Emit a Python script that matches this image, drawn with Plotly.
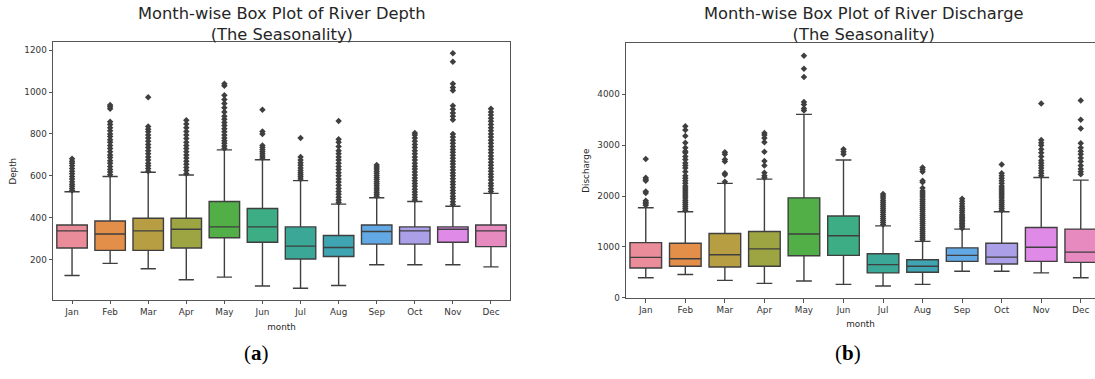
import plotly.graph_objects as go

months = ["Jan", "Feb", "Mar", "Apr", "May", "Jun", "Jul", "Aug", "Sep", "Oct", "Nov", "Dec"]
colors = ["#ea8c99", "#e38f4a", "#b89e42", "#9ca542", "#52ae46", "#3dad86",
          "#3ba897", "#3fa5b2", "#62a8e4", "#ab9fe8", "#de8ae6", "#e78ac0"]

# ---- River Depth (a) ----
depth_q1 = [255, 244, 244, 255, 304, 283, 203, 215, 274, 274, 283, 262]
depth_med = [337, 322, 337, 345, 356, 356, 264, 258, 334, 337, 345, 337]
depth_q3 = [365, 384, 397, 397, 477, 444, 356, 315, 365, 356, 356, 365]
depth_lo = [124, 182, 156, 104, 116, 74, 63, 76, 175, 175, 175, 165]
depth_hi = [524, 597, 617, 604, 724, 677, 577, 465, 495, 477, 455, 516]
depth_out = {
    "Jan": [530, 540, 550, 560, 572, 585, 597, 610, 622, 635, 648, 660, 670, 682],
    "Feb": [605, 618, 630, 645, 660, 672, 688, 700, 715, 730, 745, 760, 772, 788, 800, 815, 830, 845, 858, 920, 930, 938],
    "Mar": [622, 635, 648, 660, 675, 690, 705, 720, 735, 750, 765, 780, 795, 810, 822, 835, 975],
    "Apr": [610, 625, 640, 655, 670, 685, 700, 715, 730, 745, 760, 778, 795, 812, 830, 848, 865],
    "May": [730, 742, 755, 768, 780, 795, 810, 825, 840, 855, 870, 885, 905, 925, 945, 965, 985, 1030, 1040],
    "Jun": [685, 695, 705, 715, 725, 735, 745, 800, 812, 915],
    "Jul": [585, 595, 605, 615, 625, 637, 650, 662, 675, 690, 780],
    "Aug": [472, 485, 498, 512, 525, 540, 555, 570, 585, 600, 615, 630, 645, 660, 675, 690, 705, 720, 740, 760, 775, 862],
    "Sep": [502, 512, 522, 532, 542, 552, 562, 572, 582, 592, 602, 612, 622, 632, 642, 652],
    "Oct": [485, 497, 510, 523, 536, 550, 563, 577, 590, 604, 618, 632, 646, 660, 675, 690, 705, 720, 735, 750, 765, 780, 795, 805],
    "Nov": [463, 476, 490, 503, 517, 530, 544, 558, 572, 586, 600, 614, 628, 642, 656, 670, 684, 698, 712, 726, 740, 755, 770, 785, 800,
            868, 885, 900, 918, 935, 1008, 1022, 1040, 1145, 1185],
    "Dec": [525, 538, 552, 565, 580, 594, 608, 622, 636, 650, 665, 680, 695, 710, 725, 740, 755, 770, 785, 800, 815, 830, 845, 860,
            875, 890, 905, 920],
}

# ---- River Discharge (b) ----
dis_q1 = [588, 620, 607, 620, 827, 834, 491, 504, 717, 665, 717, 698]
dis_med = [795, 770, 847, 963, 1254, 1221, 653, 620, 834, 801, 995, 898]
dis_q3 = [1086, 1072, 1266, 1305, 1965, 1609, 866, 750, 983, 1072, 1382, 1351]
dis_lo = [394, 459, 343, 285, 330, 265, 233, 265, 523, 523, 491, 394]
dis_hi = [1770, 1693, 2249, 2333, 3606, 2708, 1415, 1111, 1351, 1693, 2365, 2313]
dis_out = {
    "Jan": [1820, 1850, 1880, 1910, 2060, 2090, 2300, 2330, 2360, 2730],
    "Feb": [1720, 1760, 1800, 1840, 1880, 1920, 1960, 2000, 2040, 2080, 2120, 2160, 2200, 2250, 2300, 2350, 2400, 2480,
            2550, 2600, 2650, 2720, 2780, 2850, 2880, 2950, 3050, 3180, 3300, 3370],
    "Mar": [2280, 2420, 2450, 2680, 2720, 2820, 2860],
    "Apr": [2360, 2400, 2460, 2600, 2690, 2870, 3060, 3140, 3200, 3240],
    "May": [3680, 3720, 3800, 3850, 4340, 4500, 4760],
    "Jun": [2820, 2870, 2920],
    "Jul": [1440, 1480, 1520, 1560, 1600, 1640, 1680, 1720, 1760, 1800, 1840, 1880, 1920, 1960, 2000, 2040],
    "Aug": [1140, 1180, 1220, 1260, 1300, 1340, 1380, 1420, 1460, 1500, 1540, 1580, 1620, 1660, 1700, 1740, 1780, 1820,
            1860, 1900, 1940, 1980, 2020, 2060, 2100, 2160, 2270, 2300, 2480, 2520, 2560],
    "Sep": [1370, 1400, 1430, 1460, 1490, 1520, 1550, 1580, 1610, 1640, 1680, 1720, 1760, 1800, 1850, 1900, 1950],
    "Oct": [1720, 1760, 1800, 1840, 1880, 1920, 1960, 2000, 2040, 2080, 2120, 2160, 2200, 2250, 2300, 2350, 2400, 2450, 2620],
    "Nov": [2400, 2450, 2500, 2550, 2600, 2650, 2700, 2780, 2850, 2920, 3000, 3050, 3100, 3820],
    "Dec": [2430, 2480, 2530, 2600, 2680, 2750, 2820, 2880, 2950, 3040, 3330, 3500, 3880],
}

LINE = "#3f3f3f"
TXT = "#262626"
FONT = "DejaVu Sans"

W = 1095
H = 379


def px(x):
    return x / W


def py(y):
    return 1 - y / H


fig = go.Figure()


def add_panel(q1, med, q3, lo, hi, outs, xa, ya):
    for i, m in enumerate(months):
        fig.add_trace(go.Box(
            x=[m], q1=[q1[i]], median=[med[i]], q3=[q3[i]],
            lowerfence=[lo[i]], upperfence=[hi[i]],
            fillcolor=colors[i], line=dict(color=LINE, width=1.4),
            width=0.8, whiskerwidth=0.5, boxpoints=False,
            xaxis=xa, yaxis=ya, showlegend=False, hoverinfo="y",
        ))
        ys = outs[m]
        fig.add_trace(go.Scatter(
            x=[m] * len(ys), y=ys, mode="markers",
            marker=dict(symbol="diamond", size=5, color=LINE, line=dict(width=0)),
            xaxis=xa, yaxis=ya, showlegend=False, hoverinfo="y",
        ))


add_panel(depth_q1, depth_med, depth_q3, depth_lo, depth_hi, depth_out, "x", "y")
add_panel(dis_q1, dis_med, dis_q3, dis_lo, dis_hi, dis_out, "x2", "y2")

axis_common = dict(
    showgrid=False, zeroline=False, showline=True, linecolor="#555555", linewidth=1,
    ticks="outside", ticklen=3.5, tickcolor="#555555", tickwidth=1,
    tickfont=dict(family=FONT, size=8.8, color="#333333"),
)
title_font = dict(family=FONT, size=8.8, color=TXT)

fig.update_layout(
    width=W, height=H,
    margin=dict(l=0, r=0, t=0, b=0),
    paper_bgcolor="white", plot_bgcolor="white",
    boxmode="overlay",
    xaxis=dict(domain=[px(53), px(510)], anchor="y", type="category",
               categoryorder="array", categoryarray=months,
               range=[-0.5, 11.5], mirror=True, **axis_common,
               title=dict(text="month", font=title_font, standoff=7)),
    yaxis=dict(domain=[py(304), py(43)], anchor="x",
               range=[7, 1237], tickvals=[200, 400, 600, 800, 1000, 1200], mirror=True, **axis_common,
               title=dict(text="Depth", font=title_font, standoff=6)),
    xaxis2=dict(domain=[px(626), 1.0], anchor="y2", type="category",
                categoryorder="array", categoryarray=months,
                range=[-0.5, 11.36], mirror=True, **axis_common,
                title=dict(text="month", font=title_font, standoff=6)),
    yaxis2=dict(domain=[py(302), py(44)], anchor="x2",
                range=[-3, 5000], tickvals=[0, 1000, 2000, 3000, 4000], mirror=False, **axis_common,
                title=dict(text="Discharge", font=title_font, standoff=6)),
)

annots = [
    dict(text="Month-wise Box Plot of River Depth<br>(The Seasonality)", x=282, y=24),
    dict(text="Month-wise Box Plot of River Discharge<br>(The Seasonality)", x=864, y=24),
]
for a in annots:
    fig.add_annotation(xref="paper", yref="paper", x=px(a["x"]), y=py(a["y"]), text=a["text"],
                       showarrow=False, xanchor="center", yanchor="middle",
                       font=dict(family=FONT, size=16.3, color=TXT))

for lab, xc in [("a", 256), ("b", 848)]:
    fig.add_annotation(xref="paper", yref="paper", x=px(xc), y=py(358),
                       text="(<b>" + lab + "</b>)", showarrow=False,
                       xanchor="center", yanchor="middle",
                       font=dict(family="Liberation Serif", size=21, color="#000000"))

fig.write_html(
    "out.html",
    config={"displayModeBar": False},
    post_script="document.body.style.margin='0px';document.body.style.overflow='hidden';",
)
